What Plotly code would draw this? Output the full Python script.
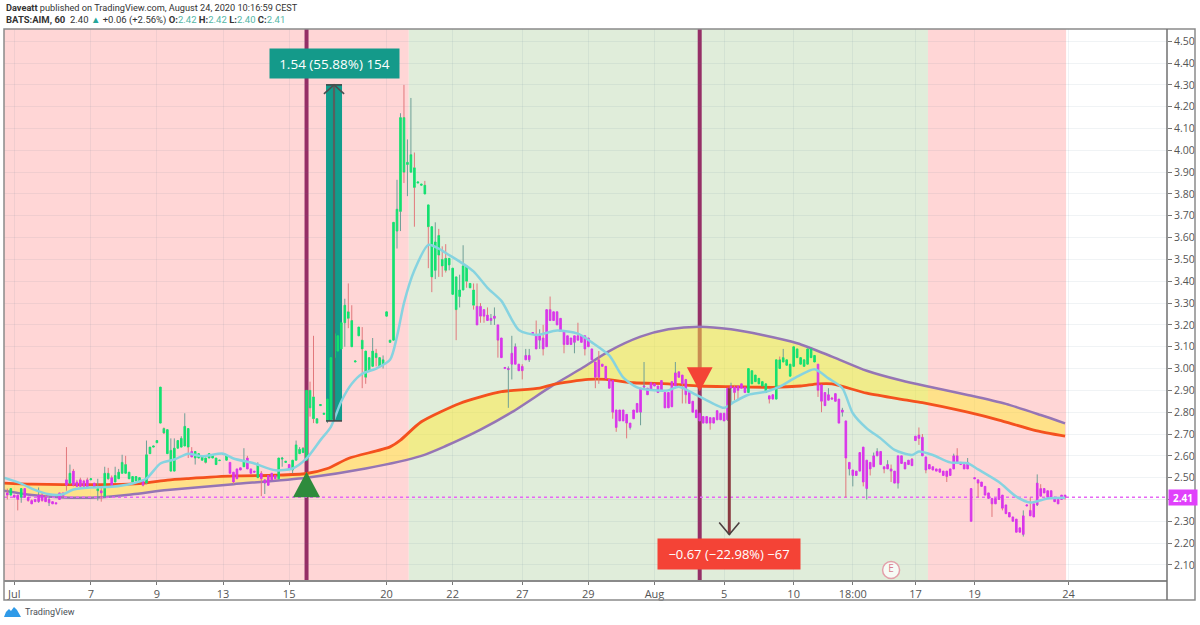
import plotly.graph_objs as go

# hourly candles, one row = 10 bars
opens = [
    2.43,2.42,2.42,2.42,2.41,2.45,2.41,2.395,2.40,2.39,
    2.42,2.41,2.385,2.39,2.385,2.40,2.43,2.49,2.475,2.53,
    2.48,2.49,2.485,2.49,2.49,2.475,2.44,2.44,2.415,2.52,
    2.50,2.48,2.495,2.52,2.56,2.525,2.505,2.485,2.50,2.485,
    2.475,2.61,2.64,2.66,2.75,2.725,2.72,2.53,2.53,2.635,
    2.64,2.645,2.725,2.62,2.59,2.59,2.58,2.59,2.59,2.59,
    2.59,2.578,2.608,2.58,2.57,2.525,2.54,2.545,2.55,2.59,
    2.54,2.53,2.50,2.52,2.475,2.51,2.52,2.51,2.495,2.585,
    2.57,2.56,2.535,2.58,2.61,2.635,2.58,2.90,2.87,2.75,
    2.83,2.79,2.76,2.765,3.05,3.15,3.09,3.21,3.26,3.22,
    3.03,3.15,3.13,3.08,2.99,3.01,3.07,3.05,3.02,3.24,
    3.12,3.13,3.63,3.72,4.15,3.935,3.90,3.92,3.85,3.84,
    3.84,3.75,3.65,3.45,3.61,3.50,3.505,3.475,3.46,3.42,
    3.33,3.36,3.47,3.39,3.36,3.285,3.285,3.27,3.245,3.22,
    3.23,3.20,3.14,3.00,2.995,3.02,3.02,3.02,3.01,3.04,
    3.04,3.16,3.15,3.13,3.14,3.10,3.27,3.26,3.26,3.23,
    3.17,3.15,3.14,3.12,3.15,3.15,3.15,3.14,3.09,3.03,
    3.04,3.02,3.01,2.95,2.945,2.81,2.76,2.81,2.79,2.73,
    2.77,2.80,2.80,2.915,2.91,2.90,2.93,2.92,2.90,2.89,
    2.89,2.825,2.92,2.985,2.97,2.95,2.89,2.85,2.81,2.795,
    2.78,2.75,2.775,2.775,2.765,2.795,2.795,2.765,2.91,2.915,
    2.92,2.93,2.915,2.89,2.99,2.97,2.955,2.94,2.89,2.875,
    2.88,2.86,3.04,3.03,3.04,3.02,3.01,3.09,3.05,3.04,
    3.02,3.09,3.06,3.02,2.925,2.89,2.855,2.865,2.885,2.86,
    2.80,2.76,2.54,2.51,2.53,2.53,2.64,2.45,2.57,2.55,
    2.60,2.62,2.55,2.54,2.54,2.53,2.475,2.60,2.57,2.58,
    2.585,2.67,2.695,2.685,2.595,2.56,2.55,2.54,2.54,2.53,
    2.53,2.51,2.54,2.60,2.57,2.56,2.54,2.45,2.50,2.49,
    2.48,2.46,2.43,2.405,2.38,2.40,2.42,2.375,2.34,2.32,
    2.31,2.27,2.24,2.37,2.35,2.32,2.375,2.45,2.45,2.44,
    2.44,2.41,2.40,2.40,2.42,
]
highs = [
    2.45,2.45,2.42,2.42,2.45,2.45,2.41,2.40,2.40,2.455,
    2.43,2.42,2.41,2.39,2.385,2.43,2.43,2.64,2.56,2.54,
    2.49,2.50,2.49,2.50,2.495,2.475,2.495,2.46,2.55,2.545,
    2.51,2.55,2.54,2.605,2.60,2.525,2.505,2.505,2.50,2.49,
    2.67,2.64,2.645,2.67,2.915,2.73,2.72,2.68,2.68,2.67,
    2.69,2.795,2.725,2.64,2.62,2.61,2.595,2.59,2.61,2.605,
    2.59,2.58,2.61,2.60,2.57,2.525,2.54,2.545,2.635,2.60,
    2.54,2.53,2.57,2.53,2.49,2.51,2.52,2.51,2.59,2.595,
    2.575,2.56,2.58,2.67,2.64,2.64,2.90,2.94,3.15,2.77,
    2.835,2.795,2.86,3.05,3.16,3.15,3.21,3.32,3.39,3.29,
    3.035,3.19,3.19,3.08,3.05,3.14,3.09,3.05,3.06,3.26,
    3.13,3.67,3.865,4.17,4.30,4.05,4.24,3.99,3.855,3.845,
    3.86,3.75,3.65,3.67,3.64,3.56,3.57,3.505,3.46,3.42,
    3.43,3.565,3.47,3.39,3.39,3.39,3.30,3.27,3.28,3.25,
    3.28,3.20,3.14,3.005,3.01,3.15,3.115,3.02,3.02,3.09,
    3.09,3.165,3.22,3.18,3.20,3.27,3.33,3.26,3.26,3.23,
    3.17,3.15,3.14,3.15,3.21,3.15,3.15,3.14,3.09,3.03,
    3.08,3.02,3.01,2.95,2.945,2.81,2.81,2.81,2.79,2.75,
    2.81,2.84,2.91,3.03,2.91,2.935,2.93,2.92,2.945,2.89,
    2.89,2.94,3.03,2.985,2.97,2.95,2.89,2.85,2.81,2.795,
    2.78,2.78,2.775,2.775,2.807,2.795,2.795,2.91,2.935,2.925,
    2.92,2.93,2.915,3.00,2.99,2.97,2.955,2.94,2.93,2.875,
    2.88,3.04,3.055,3.09,3.04,3.02,3.10,3.09,3.05,3.04,
    3.09,3.09,3.06,3.02,2.925,2.89,2.91,2.87,2.885,2.86,
    2.82,2.76,2.57,2.535,2.53,2.615,2.64,2.58,2.57,2.615,
    2.635,2.62,2.55,2.58,2.56,2.53,2.60,2.60,2.57,2.58,
    2.59,2.69,2.73,2.70,2.595,2.56,2.55,2.54,2.54,2.53,
    2.53,2.54,2.61,2.635,2.57,2.56,2.59,2.45,2.50,2.49,
    2.48,2.46,2.43,2.405,2.405,2.45,2.42,2.375,2.34,2.32,
    2.31,2.27,2.35,2.375,2.41,2.38,2.515,2.47,2.45,2.44,
    2.44,2.41,2.40,2.42,2.42,
]
lows = [
    2.40,2.42,2.41,2.35,2.385,2.41,2.39,2.38,2.39,2.385,
    2.39,2.39,2.37,2.38,2.38,2.40,2.41,2.44,2.47,2.46,
    2.46,2.46,2.46,2.455,2.49,2.455,2.395,2.39,2.41,2.49,
    2.46,2.48,2.495,2.52,2.52,2.495,2.48,2.485,2.48,2.46,
    2.47,2.61,2.64,2.66,2.75,2.70,2.61,2.53,2.53,2.635,
    2.64,2.645,2.59,2.595,2.56,2.59,2.58,2.565,2.59,2.59,
    2.56,2.578,2.608,2.58,2.52,2.47,2.495,2.535,2.55,2.54,
    2.52,2.525,2.50,2.415,2.425,2.465,2.49,2.495,2.495,2.55,
    2.57,2.54,2.52,2.58,2.61,2.615,2.58,2.78,2.75,2.75,
    2.83,2.79,2.75,2.76,3.05,3.08,3.09,3.10,3.185,3.10,
    3.03,3.15,2.91,2.93,2.99,3.01,3.01,3.01,3.00,3.24,
    3.12,3.13,3.55,3.63,3.85,3.79,3.90,3.65,3.85,3.84,
    3.80,3.46,3.35,3.41,3.42,3.42,3.44,3.45,3.34,3.13,
    3.28,3.36,3.37,3.37,3.27,3.20,3.21,3.21,3.22,3.20,
    3.20,3.05,3.05,3.00,2.82,2.95,3.02,2.99,2.95,3.04,
    3.03,3.16,3.09,3.09,3.06,3.10,3.22,3.22,3.20,3.17,
    3.07,3.11,3.11,3.07,3.13,3.12,3.06,3.10,3.04,2.91,
    2.93,3.01,2.955,2.91,2.77,2.71,2.76,2.76,2.68,2.72,
    2.77,2.80,2.74,2.91,2.88,2.90,2.92,2.89,2.90,2.82,
    2.82,2.825,2.92,2.96,2.84,2.84,2.84,2.80,2.775,2.76,
    2.75,2.75,2.72,2.75,2.765,2.765,2.76,2.76,2.84,2.855,
    2.86,2.91,2.89,2.89,2.93,2.94,2.93,2.92,2.89,2.84,
    2.86,2.86,3.00,3.03,3.015,2.965,3.01,3.05,3.02,3.01,
    3.02,3.05,3.03,2.87,2.80,2.83,2.855,2.86,2.85,2.75,
    2.78,2.41,2.51,2.46,2.51,2.53,2.46,2.40,2.51,2.55,
    2.60,2.56,2.52,2.54,2.48,2.475,2.45,2.565,2.54,2.56,
    2.555,2.67,2.65,2.60,2.52,2.54,2.535,2.53,2.525,2.51,
    2.48,2.51,2.54,2.565,2.56,2.54,2.54,2.30,2.495,2.41,
    2.46,2.42,2.405,2.32,2.38,2.40,2.35,2.335,2.32,2.30,
    2.25,2.25,2.23,2.37,2.325,2.32,2.37,2.415,2.43,2.41,
    2.41,2.39,2.38,2.40,2.40,
]
closes = [
    2.42,2.45,2.41,2.40,2.45,2.41,2.395,2.38,2.39,2.42,
    2.395,2.39,2.40,2.38,2.38,2.43,2.415,2.465,2.52,2.465,
    2.46,2.46,2.46,2.455,2.495,2.455,2.45,2.43,2.52,2.495,
    2.465,2.51,2.525,2.57,2.52,2.495,2.48,2.505,2.48,2.465,
    2.605,2.64,2.645,2.67,2.915,2.705,2.61,2.625,2.635,2.67,
    2.68,2.735,2.64,2.595,2.62,2.61,2.595,2.57,2.61,2.605,
    2.56,2.58,2.61,2.60,2.52,2.48,2.495,2.535,2.58,2.54,
    2.52,2.525,2.56,2.495,2.49,2.465,2.49,2.495,2.59,2.59,
    2.575,2.54,2.58,2.65,2.63,2.615,2.90,2.82,2.77,2.77,
    2.835,2.795,2.86,3.05,3.16,3.08,3.21,3.29,3.23,3.10,
    3.035,3.19,3.09,2.96,3.05,3.08,3.05,3.01,3.04,3.26,
    3.13,3.67,3.73,4.15,3.90,3.945,3.98,3.83,3.855,3.845,
    3.80,3.65,3.42,3.58,3.52,3.47,3.45,3.505,3.34,3.27,
    3.36,3.47,3.40,3.37,3.29,3.20,3.24,3.24,3.22,3.23,
    3.24,3.13,3.05,3.005,3.00,3.07,3.10,2.99,2.99,3.06,
    3.06,3.165,3.09,3.15,3.09,3.27,3.22,3.22,3.20,3.17,
    3.11,3.11,3.11,3.15,3.13,3.12,3.09,3.10,3.04,2.96,
    2.96,3.01,2.955,2.91,2.80,2.73,2.81,2.76,2.75,2.75,
    2.81,2.84,2.91,2.92,2.88,2.935,2.92,2.89,2.945,2.82,
    2.82,2.94,2.98,2.96,2.93,2.88,2.84,2.80,2.775,2.76,
    2.75,2.78,2.75,2.75,2.807,2.765,2.76,2.91,2.92,2.89,
    2.90,2.91,2.89,3.00,2.93,2.94,2.93,2.92,2.93,2.86,
    2.86,3.04,3.00,3.05,3.015,2.965,3.10,3.05,3.02,3.01,
    3.09,3.05,3.03,2.90,2.85,2.83,2.88,2.86,2.85,2.75,
    2.81,2.59,2.57,2.535,2.51,2.615,2.48,2.58,2.54,2.60,
    2.62,2.56,2.54,2.56,2.53,2.475,2.60,2.565,2.54,2.56,
    2.555,2.69,2.68,2.60,2.535,2.54,2.535,2.53,2.525,2.51,
    2.505,2.54,2.60,2.565,2.56,2.54,2.57,2.30,2.495,2.475,
    2.46,2.42,2.405,2.38,2.405,2.45,2.36,2.335,2.32,2.30,
    2.25,2.25,2.325,2.375,2.325,2.38,2.475,2.415,2.43,2.41,
    2.41,2.39,2.38,2.42,2.41,
]
# bars painted green by the indicator, first and last bar of each run
green_runs = [(1,1),(4,4),(18,18),(24,24),(26,26),(28,29),(31,38),(40,52),(54,63),(68,68),
              (72,72),(78,80),(82,134),(213,218),(221,232)]

# indicator lines, (bar, price) pairs read at the bends
fast_bar = [-0.95,7,16,38,46,52,65,77,86,92,98,110,113,119,130,136,142,153,157,167,172,180,190,199,209,220,228,233,237,247,257,263,276,285,295,304]
fast_val = [2.475,2.47,2.468,2.473,2.489,2.496,2.508,2.511,2.519,2.542,2.588,2.641,2.672,2.756,2.84,2.87,2.894,2.91,2.928,2.95,2.95,2.935,2.93,2.92,2.917,2.914,2.92,2.93,2.93,2.887,2.859,2.844,2.80,2.764,2.718,2.69]
slow_bar = [-0.95,7,16,27,36,46,65,86,103,119,126,136,145,157,165,173,182,190,199,208,217,227,237,247,257,266,276,287,297,304]
slow_val = [2.44,2.42,2.409,2.41,2.424,2.443,2.47,2.50,2.542,2.60,2.645,2.72,2.80,2.925,3.00,3.08,3.146,3.18,3.192,3.18,3.154,3.116,3.055,2.99,2.945,2.913,2.879,2.838,2.787,2.749]
sma_bar = [-0.95,4,7,12,16,19,24,30,36,40,44,48,52,56,62,65,71,77,82,86,90,93,96,99,102,106,110,112,114,117,121,124,127,131,134,138,142,147,152,158,164,168,173,177,181,186,190,193,198,203,206,209,213,218,222,227,232,236,240,243,247,251,255,260,262,266,271,276,279,285,290,294,299,304]
sma_val = [2.50,2.473,2.45,2.424,2.424,2.446,2.455,2.458,2.473,2.496,2.565,2.583,2.61,2.598,2.61,2.588,2.565,2.534,2.542,2.588,2.672,2.733,2.85,2.93,2.976,3.0,3.04,3.147,3.30,3.45,3.567,3.55,3.52,3.48,3.445,3.37,3.31,3.177,3.154,3.174,3.16,3.12,3.06,2.96,2.914,2.90,2.90,2.917,2.879,2.838,2.82,2.848,2.88,2.894,2.917,2.963,2.997,2.955,2.91,2.795,2.726,2.68,2.627,2.604,2.62,2.604,2.57,2.566,2.538,2.48,2.413,2.386,2.405,2.408]

# background zones and signal bars
zone_edges = [-0.95,115.4,264.6,304.3]
zone_colors = ['#ffd6d6','#e0edda','#ffd6d6']
signal_bars = [86,199]
buy_tri_price = [2.41,2.527]
sell_tri_price = [3.006,2.895]
last_price = 2.41
# price range tools
long_bars = [91.6,96.2]
long_prices = [2.76,4.30]
short_bar = 207.5
short_prices = [2.91,2.24]
earnings_bar = 254
earnings_price = 2.077

price_ticks = [2.1,2.2,2.3,2.4,2.5,2.6,2.7,2.8,2.9,3.0,3.1,3.2,3.3,3.4,3.5,3.6,3.7,3.8,3.9,4.0,4.1,4.2,4.3,4.4,4.5]
date_ticks = [2,24,43,62,81,109,128,148,167,186,206,226,243,261,278,305]
date_labels = ['Jul','7','9','13','15','20','22','27','29','Aug','5','10','18:00','17','19','24']

X_RANGE = [-0.95,333.3]
Y_RANGE = [2.031,4.556]
FONT = 'Open Sans'
HEAD_FONT = 'Roboto'
GRID = 'rgba(90,120,140,0.09)'

def paper_x(px):
    return (px-4)/1163.0

def paper_y(py):
    return (580-py)/551.0

bars = list(range(len(closes)))
is_green = [False]*len(bars)
for first, last in green_runs:
    for i in range(first, last+1):
        is_green[i] = True

# wicks are split at the body, scatter lines would otherwise lie on top of it
up_x, up_y, down_x, down_y = [], [], [], []
for i in bars:
    top = max(opens[i],closes[i])
    bot = min(opens[i],closes[i])
    if closes[i] >= opens[i]:
        up_x += [i,i,None,i,i,None]
        up_y += [lows[i],bot,None,top,highs[i],None]
    else:
        down_x += [i,i,None,i,i,None]
        down_y += [lows[i],bot,None,top,highs[i],None]

def bodies(keep, color):
    idx = [i for i in bars if is_green[i] == keep]
    tops = [max(opens[i],closes[i]) for i in idx]
    bots = [min(opens[i],closes[i]) for i in idx]
    return go.Candlestick(
        x=idx, open=[opens[i] for i in idx], close=[closes[i] for i in idx],
        high=tops, low=bots,
        increasing=dict(line=dict(color=color,width=1), fillcolor=color),
        decreasing=dict(line=dict(color=color,width=1), fillcolor=color),
        whiskerwidth=0, xaxis='x2', yaxis='y2', showlegend=False, hoverinfo='skip')

def line(x, y, color, width, on_top=True, dash=None, shape=None):
    style = dict(color=color, width=width)
    if dash:
        style['dash'] = dash
    if shape:
        style['shape'] = shape
        style['smoothing'] = 0.7
    return go.Scatter(x=x, y=y, mode='lines', line=style, connectgaps=False,
                      xaxis='x2' if on_top else 'x', yaxis='y2' if on_top else 'y',
                      showlegend=False, hoverinfo='skip')

def triangle(center, prices, half, color):
    return go.Scatter(x=[center-half,center+half,center,center-half],
                      y=[prices[0],prices[0],prices[1],prices[0]],
                      mode='lines', fill='toself', fillcolor=color, line=dict(color=color,width=0),
                      xaxis='x2', yaxis='y2', showlegend=False, hoverinfo='skip')

long_mid = (long_bars[0]+long_bars[1])/2.0
data = [
    # teal range sits under the candles
    go.Scatter(x=[long_bars[0],long_bars[1],long_bars[1],long_bars[0],long_bars[0]],
               y=[long_prices[0],long_prices[0],long_prices[1],long_prices[1],long_prices[0]],
               mode='lines', fill='toself', fillcolor='#129c8c', line=dict(color='#129c8c',width=0),
               showlegend=False, hoverinfo='skip'),
    line(slow_bar, slow_val, '#9575b5', 2.5, on_top=False, shape='spline'),
    go.Scatter(x=fast_bar, y=fast_val, mode='lines', fill='tonexty', fillcolor='rgba(255,235,59,0.5)',
               line=dict(color='#f4511e',width=2.8,shape='spline',smoothing=0.7),
               showlegend=False, hoverinfo='skip'),
    line([X_RANGE[0],X_RANGE[1]], [last_price,last_price], '#e666f5', 1.5, on_top=False, dash='dot'),
    line(up_x, up_y, '#6f9f97', 1),
    line(down_x, down_y, '#e2787c', 1),
    bodies(True, '#14e070'),
    bodies(False, '#d936ea'),
    line(sma_bar, sma_val, '#86d3e0', 2.5, shape='spline'),
    triangle(signal_bars[0], buy_tri_price, 3.9, '#2e8b3c'),
    triangle(signal_bars[1], sell_tri_price, 3.7, '#f44336'),
    # arrows of the two range tools
    line([long_mid,long_mid], long_prices, '#56605f', 2.2),
    line(long_bars, [long_prices[0],long_prices[0]], '#3f4a4a', 1.6),
    line(long_bars, [long_prices[1],long_prices[1]], '#3f4a4a', 1.6),
    line([long_mid-2.9,long_mid,long_mid+2.9], [long_prices[1]-0.041,long_prices[1],long_prices[1]-0.041], '#4a4f50', 1.6),
    line([short_bar,short_bar], short_prices, '#8a3a40', 3),
    line([short_bar-2.9,short_bar,short_bar+2.9], [short_prices[1]+0.055,short_prices[1],short_prices[1]+0.055], '#4a4040', 1.6),
    go.Scatter(x=[earnings_bar], y=[earnings_price], mode='markers+text', text=['E'], textposition='middle center',
               textfont=dict(family=FONT,size=10,color='#d98090'),
               marker=dict(size=17,color='rgba(255,255,255,0.75)',line=dict(color='#e3a0aa',width=1.5)),
               xaxis='x2', yaxis='y2', showlegend=False, hoverinfo='skip'),
]

shapes = []
for i in range(len(zone_colors)):
    shapes.append(dict(type='rect', xref='x', yref='paper', x0=zone_edges[i], x1=zone_edges[i+1], y0=0, y1=1,
                       fillcolor=zone_colors[i], line=dict(width=0), layer='below'))
for b in signal_bars:
    shapes.append(dict(type='line', xref='x', yref='paper', x0=b, x1=b, y0=0, y1=1,
                       line=dict(color='#952f66',width=4), layer='below'))
# chart frame and the strip under the time axis
shapes.append(dict(type='rect', xref='paper', yref='paper', x0=0, x1=paper_x(1195), y0=paper_y(600), y1=1,
                   line=dict(color='#8a8a8a',width=1.5)))
shapes.append(dict(type='line', xref='paper', yref='paper', x0=1, x1=1, y0=paper_y(600), y1=1,
                   line=dict(color='#707070',width=1.5)))
# tradingview cloud
cloud = [(4,617),(6,612),(9,609),(11,611),(14,607),(17,610),(21,617)]
path = 'M ' + ' L '.join('%.4f,%.4f' % (paper_x(a),paper_y(b)) for a,b in cloud) + ' Z'
shapes.append(dict(type='path', xref='paper', yref='paper', path=path, fillcolor='#2f9ae8', line=dict(width=0)))

def note(px, py, text, size=10, color='#333333', anchor='left'):
    return dict(xref='paper', yref='paper', x=paper_x(px), y=paper_y(py), text=text, showarrow=False,
                xanchor=anchor, yanchor='middle', align='left', font=dict(family=HEAD_FONT,size=size,color=color))

def teal(text):
    return '<span style="color:#53b5a5">' + text + '</span>'

annotations = [
    note(4, 8, '<b>Daveatt</b> published on TradingView.com, August 24, 2020 10:16:59 CEST', size=9.2),
    note(4, 20, '<b>BATS:AIM, 60</b>  2.40 <span style="color:#26a69a">▲</span> +0.06 (+2.56%) '
                + '<b>O:</b>' + teal('2.42') + ' <b>H:</b>' + teal('2.42')
                + ' <b>L:</b>' + teal('2.40') + ' <b>C:</b>' + teal('2.41'), size=9.5),
    note(23, 612, 'TradingView', size=9, color='#4a4f55'),
    dict(x=long_mid, y=4.398, xref='x', yref='y', text='1.54 (55.88%) 154', showarrow=False, width=127, height=27,
         bgcolor='#149a8a', font=dict(family=FONT,size=13.5,color='white')),
    dict(x=short_bar, y=2.15, xref='x', yref='y', text='−0.67 (−22.98%) −67', showarrow=False, width=140, height=28,
         bgcolor='#f44336', font=dict(family=FONT,size=13,color='white')),
    dict(xref='paper', yref='y', x=paper_x(1168), y=last_price, text='<b>2.41</b>', showarrow=False, xanchor='left',
         width=26, height=13, bgcolor='#e040fb', font=dict(family=FONT,size=10,color='white')),
]

plot_layout = go.Layout(
    width=1200, height=625,
    margin=dict(l=4, r=33, t=29, b=45),
    paper_bgcolor='white', plot_bgcolor='white',
    boxmode='overlay', boxgap=0.35,
    showlegend=False,
    xaxis=dict(range=X_RANGE, tickmode='array', tickvals=date_ticks, ticktext=date_labels,
               ticks='outside', ticklen=3, tickcolor='#777777', tickfont=dict(family=FONT,size=11,color='#555555'),
               showgrid=True, gridcolor=GRID, zeroline=False, showline=True, linecolor='#8a8a8a', linewidth=1.5,
               rangeslider=dict(visible=False)),
    yaxis=dict(range=Y_RANGE, side='right', tickmode='array', tickvals=price_ticks,
               ticktext=['%.2f' % p for p in price_ticks],
               ticks='outside', ticklen=4, tickcolor='#777777', tickfont=dict(family=FONT,size=10.5,color='#555555'),
               showgrid=True, gridcolor=GRID, zeroline=False),
    xaxis2=dict(range=X_RANGE, overlaying='x', anchor='y2', visible=False, rangeslider=dict(visible=False)),
    yaxis2=dict(range=Y_RANGE, overlaying='y', anchor='x2', visible=False),
    shapes=shapes,
    annotations=annotations,
)

fig = go.Figure(data=data, layout=plot_layout)
# the browser's default page margin would push the 1200 wide figure off the window
fig.write_html("out.html", config=dict(displayModeBar=False), post_script="document.body.style.margin='0';")
